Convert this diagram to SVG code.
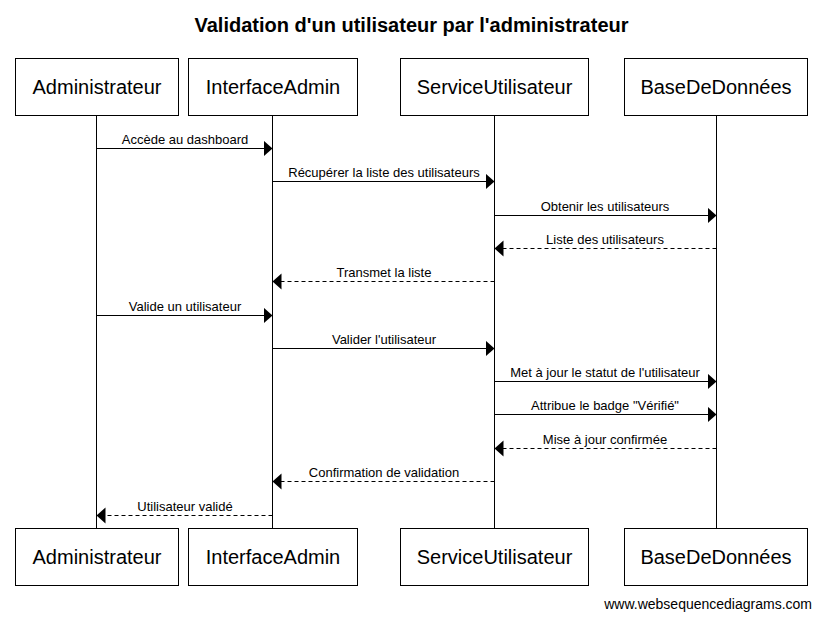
<svg xmlns="http://www.w3.org/2000/svg" width="822" height="619" viewBox="0 0 822 619">
<style>
.box{fill:#fff;stroke:#000;stroke-width:1}
.pt{font-family:"Liberation Sans",Arial,sans-serif;font-size:20px;text-anchor:middle;fill:#000}
.life{stroke:#000;stroke-width:1}
.msg{stroke:#000;stroke-width:1;fill:none}
.ret{stroke-dasharray:4,3}
.lbl{font-family:"Liberation Sans",Arial,sans-serif;font-size:13px;text-anchor:middle;fill:#000}
</style>
<defs>
<marker id="ah" markerWidth="10" markerHeight="17" refX="9" refY="8" orient="auto" markerUnits="userSpaceOnUse">
<path d="M0,0 L9,8 L0,16 Z" fill="#000"/>
</marker>
</defs>
<rect width="822" height="619" fill="#fff"/>
<text x="411.5" y="32" font-family="Liberation Sans,Arial,sans-serif" font-size="20" font-weight="bold" text-anchor="middle">Validation d'un utilisateur par l'administrateur</text>
<g id="lifelines">
<line class="life" x1="96.5" y1="115" x2="96.5" y2="528"/>
<line class="life" x1="272.5" y1="115" x2="272.5" y2="528"/>
<line class="life" x1="494.5" y1="115" x2="494.5" y2="528"/>
<line class="life" x1="716.5" y1="115" x2="716.5" y2="528"/>
</g>
<g id="Administrateur">
<rect class="box" x="15.5" y="58.5" width="163" height="57"/>
<text class="pt" x="97" y="94">Administrateur</text>
<rect class="box" x="15.5" y="528.5" width="163" height="57"/>
<text class="pt" x="97" y="564">Administrateur</text>
</g>
<g id="InterfaceAdmin">
<rect class="box" x="188.5" y="58.5" width="169" height="57"/>
<text class="pt" x="273" y="94">InterfaceAdmin</text>
<rect class="box" x="188.5" y="528.5" width="169" height="57"/>
<text class="pt" x="273" y="564">InterfaceAdmin</text>
</g>
<g id="ServiceUtilisateur">
<rect class="box" x="400.5" y="58.5" width="188" height="57"/>
<text class="pt" x="494.5" y="94">ServiceUtilisateur</text>
<rect class="box" x="400.5" y="528.5" width="188" height="57"/>
<text class="pt" x="494.5" y="564">ServiceUtilisateur</text>
</g>
<g id="BaseDeDonnees">
<rect class="box" x="624.5" y="58.5" width="183" height="57"/>
<text class="pt" x="716" y="94">BaseDeDonnées</text>
<rect class="box" x="624.5" y="528.5" width="183" height="57"/>
<text class="pt" x="716" y="564">BaseDeDonnées</text>
</g>
<g id="connectors">
<line class="msg" x1="96.5" y1="148.5" x2="272.5" y2="148.5" marker-end="url(#ah)"/>
<text class="lbl" x="185" y="144">Accède au dashboard</text>
<line class="msg" x1="272.5" y1="181.5" x2="494.5" y2="181.5" marker-end="url(#ah)"/>
<text class="lbl" x="384" y="177">Récupérer la liste des utilisateurs</text>
<line class="msg" x1="494.5" y1="215.5" x2="716.5" y2="215.5" marker-end="url(#ah)"/>
<text class="lbl" x="605" y="211">Obtenir les utilisateurs</text>
<line class="msg ret" x1="716.5" y1="248.5" x2="494.5" y2="248.5" marker-end="url(#ah)"/>
<text class="lbl" x="605" y="244">Liste des utilisateurs</text>
<line class="msg ret" x1="494.5" y1="281.5" x2="272.5" y2="281.5" marker-end="url(#ah)"/>
<text class="lbl" x="384" y="277">Transmet la liste</text>
<line class="msg" x1="96.5" y1="315.5" x2="272.5" y2="315.5" marker-end="url(#ah)"/>
<text class="lbl" x="185" y="311">Valide un utilisateur</text>
<line class="msg" x1="272.5" y1="348.5" x2="494.5" y2="348.5" marker-end="url(#ah)"/>
<text class="lbl" x="384" y="344">Valider l'utilisateur</text>
<line class="msg" x1="494.5" y1="381.5" x2="716.5" y2="381.5" marker-end="url(#ah)"/>
<text class="lbl" x="605" y="377">Met à jour le statut de l'utilisateur</text>
<line class="msg" x1="494.5" y1="414.5" x2="716.5" y2="414.5" marker-end="url(#ah)"/>
<text class="lbl" x="605" y="410">Attribue le badge "Vérifié"</text>
<line class="msg ret" x1="716.5" y1="448.5" x2="494.5" y2="448.5" marker-end="url(#ah)"/>
<text class="lbl" x="605" y="444">Mise à jour confirmée</text>
<line class="msg ret" x1="494.5" y1="481.5" x2="272.5" y2="481.5" marker-end="url(#ah)"/>
<text class="lbl" x="384" y="477">Confirmation de validation</text>
<line class="msg ret" x1="272.5" y1="515.5" x2="96.5" y2="515.5" marker-end="url(#ah)"/>
<text class="lbl" x="185" y="511">Utilisateur validé</text>
</g>
<text x="812" y="609" font-family="Liberation Sans,Arial,sans-serif" font-size="14" text-anchor="end">www.websequencediagrams.com</text>
</svg>
